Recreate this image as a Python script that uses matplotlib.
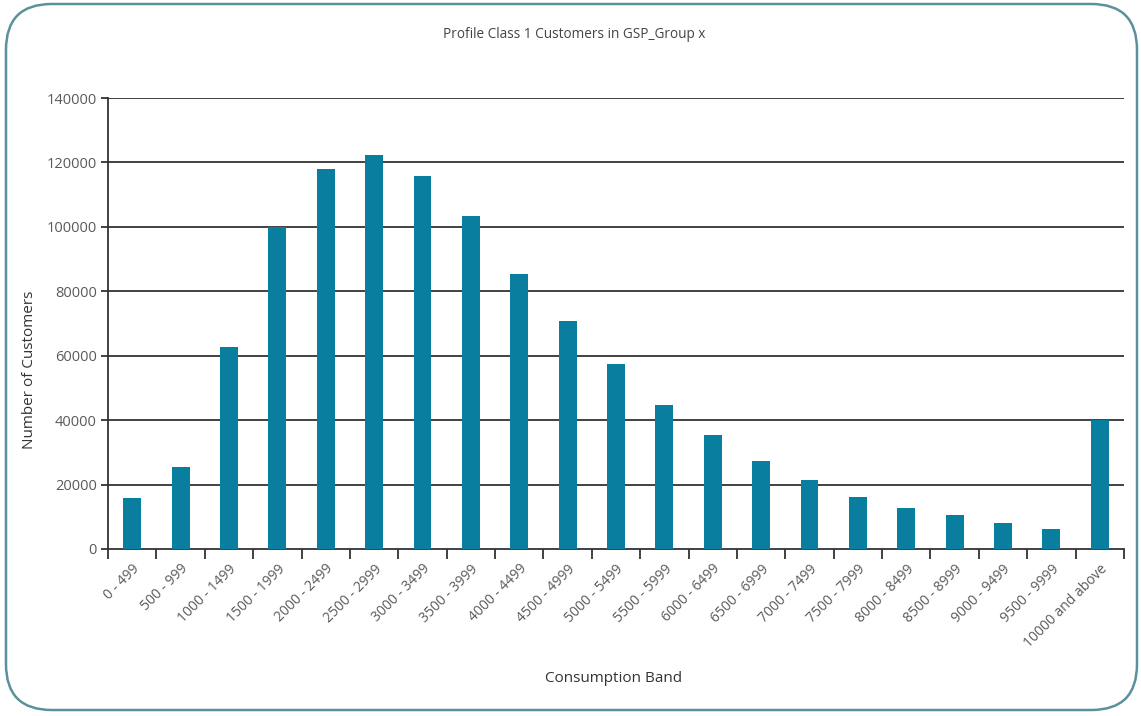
import matplotlib.pyplot as plt
import numpy as np
from matplotlib.patches import FancyBboxPatch

# consumption bands and customer counts
bands = ['0 - 499', '500 - 999', '1000 - 1499', '1500 - 1999', '2000 - 2499',
         '2500 - 2999', '3000 - 3499', '3500 - 3999', '4000 - 4499', '4500 - 4999',
         '5000 - 5499', '5500 - 5999', '6000 - 6499', '6500 - 6999', '7000 - 7499',
         '7500 - 7999', '8000 - 8499', '8500 - 8999', '9000 - 9499', '9500 - 9999',
         '10000 and above']
customers = [15700, 25500, 62800, 99900, 118000, 122200, 115900, 103400, 85400,
             70900, 57400, 44700, 35300, 27300, 21400, 16200, 12700, 10400, 8100,
             6300, 39900]
yticks = [0, 20000, 40000, 60000, 80000, 100000, 120000, 140000]

plt.rcParams['font.family'] = ['Open Sans', 'DejaVu Sans']

fig = plt.figure(figsize=(11.41, 7.16), dpi=100)
fig.patch.set_facecolor('white')

# rounded frame around the whole chart
frame = FancyBboxPatch((6 / 1141, 6 / 716), 1131 / 1141, 706 / 716,
                       boxstyle='round,pad=0,rounding_size=0.04',
                       transform=fig.transFigure, facecolor='none',
                       edgecolor='#5b919b', linewidth=1.8, mutation_aspect=1141 / 716)
fig.patches.append(frame)

ax = fig.add_axes([108 / 1141, 1 - 549 / 716, 1016 / 1141, 451 / 716])
x = np.arange(len(bands))
ax.bar(x, customers, width=0.37, color='#0a7e9e', zorder=3)

ax.set_xlim(-0.5, len(bands) - 0.5)
ax.set_ylim(0, 140000)
ax.set_yticks(yticks)
ax.set_yticklabels([str(v) for v in yticks], fontsize=10.5, color='#5a5a5a')
for v in yticks[1:]:
    ax.axhline(v, color='#333333', linewidth=1.3, zorder=1)

ax.set_xticks(x)
ax.set_xticklabels(bands, rotation=45, ha='right', rotation_mode='anchor',
                   fontsize=10, color='#5a5a5a')
ax.tick_params(axis='x', length=0, pad=9)
# tick marks on the band boundaries
ax.set_xticks(np.arange(len(bands) + 1) - 0.5, minor=True)
ax.tick_params(axis='x', which='minor', length=7, width=1.3, color='#333333', direction='out')
ax.tick_params(axis='y', length=5, width=1.3, color='#333333', pad=3)

for side in ['top', 'right']:
    ax.spines[side].set_visible(False)
for side in ['left', 'bottom']:
    ax.spines[side].set_color('#333333')
    ax.spines[side].set_linewidth(1.3)

fig.text(30 / 1141, 1 - 370 / 716, 'Number of Customers', fontsize=11,
         color='#333333', ha='center', va='center', rotation=90)
fig.text(614 / 1141, 1 - 678 / 716, 'Consumption Band', fontsize=11,
         color='#333333', ha='center', va='center')
fig.text(574 / 1141, 1 - 35 / 716, 'Profile Class 1 Customers in GSP_Group x',
         fontsize=9.8, color='#444444', ha='center', va='center')

fig.savefig('out.png', dpi=100, facecolor='white')
